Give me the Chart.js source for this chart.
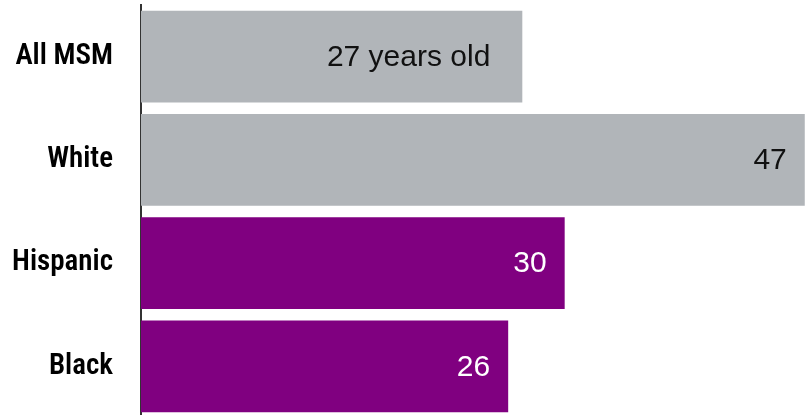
<!DOCTYPE html>
<html>
<head>
<meta charset="utf-8">
<script src="https://cdn.jsdelivr.net/npm/chart.js@4"></script>
<style>
  html, body { margin: 0; padding: 0; background: #fff; overflow: hidden; }
  #wrap { width: 809px; height: 418px; }
</style>
</head>
<body>
<div id="wrap"><canvas id="chart"></canvas></div>
<script>
const categories = ['All MSM', 'White', 'Hispanic', 'Black'];
const medianAge = [27, 47, 30, 26];
const valueLabels = ['27 years old', '47', '30', '26'];
const barColors = ['#b1b5b9', '#b1b5b9', '#800080', '#800080'];
const labelColors = ['#111', '#111', '#fff', '#fff'];

// draws the value text inside the end of each bar
const barLabels = {
  id: 'barLabels',
  afterDatasetsDraw(chart) {
    const ctx = chart.ctx;
    const meta = chart.getDatasetMeta(0);
    ctx.save();
    ctx.font = '30px "Liberation Sans", Arial, sans-serif';
    ctx.textAlign = 'right';
    ctx.textBaseline = 'middle';
    meta.data.forEach((bar, i) => {
      const pad = i === 0 ? 32 : 18;
      ctx.fillStyle = labelColors[i];
      ctx.fillText(valueLabels[i], bar.x - pad, bar.y + 1);
    });
    ctx.restore();
  }
};

const ctx = document.getElementById('chart').getContext('2d');
new Chart(ctx, {
  type: 'bar',
  data: {
    labels: categories,
    datasets: [{
      data: medianAge,
      backgroundColor: barColors,
      borderWidth: 0,
      barPercentage: 0.89,
      categoryPercentage: 1
    }]
  },
  options: {
    indexAxis: 'y',
    responsive: true,
    maintainAspectRatio: false,
    animation: false,
    layout: { padding: { top: 5, right: 0, bottom: 0, left: 0 } },
    scales: {
      x: {
        display: false,
        min: 0,
        max: 47.3
      },
      y: {
        grid: { display: false, drawTicks: false },
        border: { display: true, color: '#333', width: 2 },
        ticks: {
          color: '#000',
          padding: 28,
          font: { family: '"Roboto Condensed", sans-serif', size: 29, weight: '600' }
        },
        afterFit(scale) {
          scale.width = 141;
          // tick padding would otherwise shrink the chart area vertically
          scale.paddingTop = 0;
          scale.paddingBottom = 0;
        }
      }
    },
    plugins: {
      legend: { display: false },
      tooltip: { enabled: false }
    }
  },
  plugins: [barLabels]
});
</script>
</body>
</html>
